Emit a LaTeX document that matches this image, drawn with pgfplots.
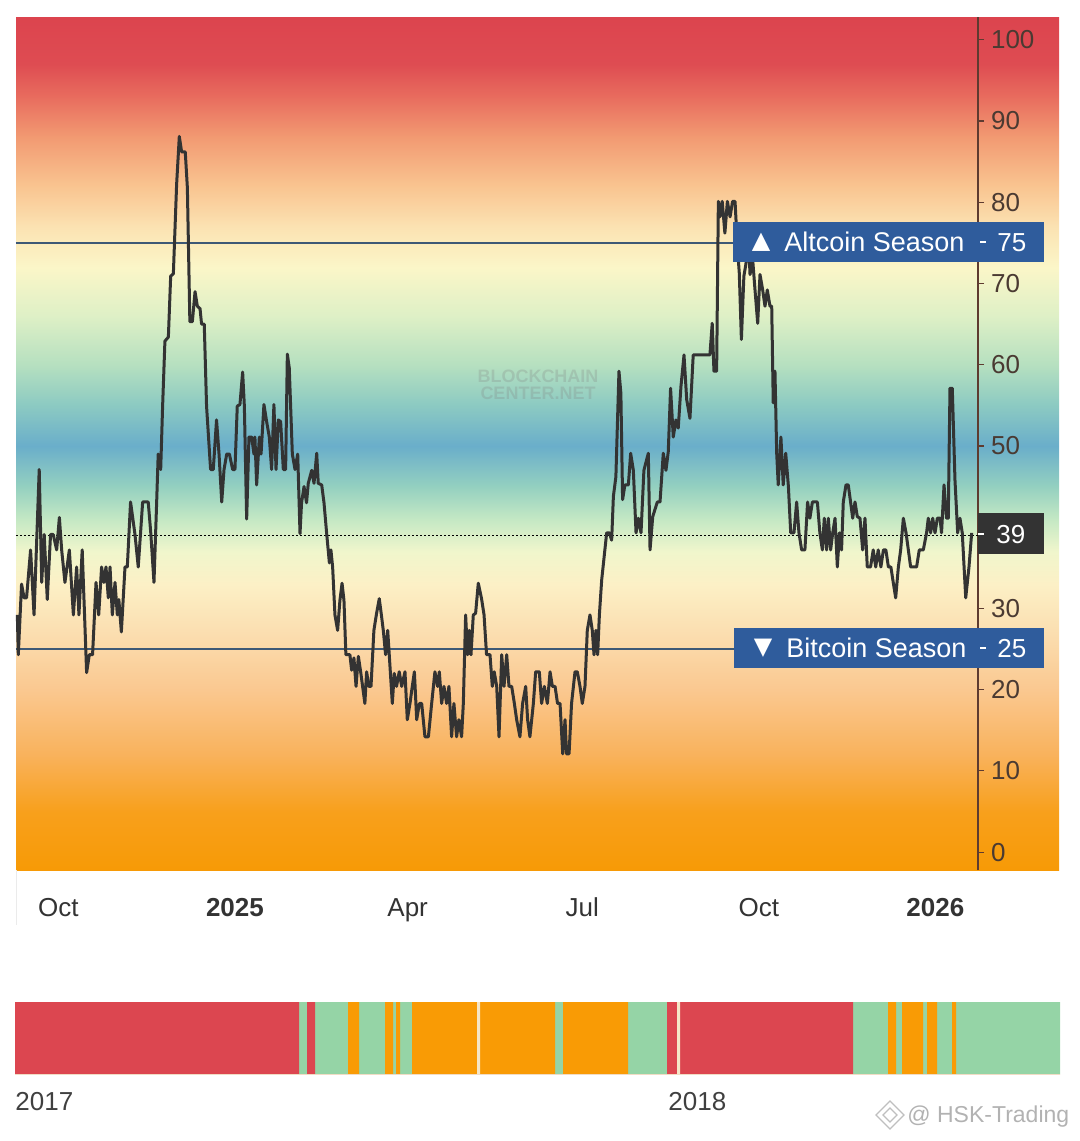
\documentclass[border=0pt]{standalone}
\usepackage{pgfplots}
\pgfplotsset{compat=1.18}
\usepackage{fontspec}
\setmainfont{Liberation Sans}
\newfontfamily\dejavu{DejaVu Sans}
\definecolor{lineblk}{HTML}{333333}
\definecolor{seasonln}{HTML}{3D5875}
\definecolor{boxblue}{HTML}{2F5C9C}
\definecolor{boxdark}{HTML}{333333}
\definecolor{tickcol}{HTML}{4A3A32}
\definecolor{axiscol}{HTML}{5E3B30}
\definecolor{xlab}{HTML}{333333}
\definecolor{sred}{HTML}{DC4650}
\definecolor{sgreen}{HTML}{95D4A6}
\definecolor{sorange}{HTML}{F99B05}
\definecolor{spale}{HTML}{F5E6C8}
\definecolor{g00}{RGB}{247,154,6}
\definecolor{g01}{RGB}{248,160,28}
\definecolor{g02}{RGB}{249,178,92}
\definecolor{g03}{RGB}{250,200,144}
\definecolor{g04}{RGB}{251,222,176}
\definecolor{g05}{RGB}{252,240,198}
\definecolor{g06}{RGB}{240,246,204}
\definecolor{g07}{RGB}{196,232,196}
\definecolor{g08}{RGB}{148,208,192}
\definecolor{g09}{RGB}{106,174,202}
\definecolor{g10}{RGB}{140,202,194}
\definecolor{g11}{RGB}{182,224,192}
\definecolor{g12}{RGB}{222,240,198}
\definecolor{g13}{RGB}{251,246,200}
\definecolor{g14}{RGB}{251,226,178}
\definecolor{g15}{RGB}{249,196,144}
\definecolor{g16}{RGB}{242,154,114}
\definecolor{g17}{RGB}{232,108,94}
\definecolor{g18}{RGB}{222,76,82}
\definecolor{g19}{RGB}{220,68,78}
\pgfdeclareverticalshading{bgshade}{100bp}{color(0bp)=(g00); color(25bp)=(g00); color(28.43bp)=(g01); color(31.76bp)=(g02); color(35.57bp)=(g03); color(38.9bp)=(g04); color(41.76bp)=(g05); color(43.67bp)=(g06); color(45.57bp)=(g07); color(47.48bp)=(g08); color(49.86bp)=(g09); color(52.24bp)=(g10); color(54.62bp)=(g11); color(57.48bp)=(g12); color(60.33bp)=(g13); color(62.71bp)=(g14); color(65.1bp)=(g15); color(67.95bp)=(g16); color(70.33bp)=(g17); color(72.24bp)=(g18); color(75bp)=(g19); color(100bp)=(g19)}
\newcommand{\lab}{\fontsize{13}{15}\selectfont}
\newcommand{\blab}{\fontsize{13.5}{15}\selectfont}
\begin{document}
\begin{tikzpicture}
\path[use as bounding box] (0pt,0pt) rectangle (540pt,-570.5pt);
\shade[shading=bgshade] (8pt,-8.5pt) rectangle (529.5pt,-435pt);
\begin{axis}[
 at={(8pt,-435pt)}, anchor=south west, scale only axis,
 width=481pt, height=426.5pt,
 xmin=-114.1, xmax=387.2, ymin=-2.2, ymax=102.8,
 axis x line*=bottom, axis y line*=right,
 x axis line style={draw=none},
 y axis line style={draw=axiscol, line width=0.6pt},
 xtick={-92,0,90,181,273,365},
 xticklabels={Oct,\textbf{2025},Apr,Jul,Oct,\textbf{2026}},
 xtick style={draw=none},
 ytick={0,10,20,30,50,60,70,80,90,100},
 ytick style={draw=axiscol, line width=0.6pt},
 tick align=outside, major tick length=3pt,
 xticklabel style={font=\lab, text=xlab, yshift=-7pt, text height=9.5pt, text depth=2.5pt},
 yticklabel style={font=\lab, text=tickcol},
 /pgf/number format/assume math mode=true,
 clip=false,
]
\addplot[seasonln, line width=1.2pt] coordinates {(-114.1,75) (260,75)};
\addplot[seasonln, line width=1.2pt] coordinates {(-114.1,25) (260,25)};
\addplot[black, line width=0.5pt, dash pattern=on 1pt off 1pt] coordinates {(-114.1,39) (387.2,39)};
\addplot[lineblk, line width=1.5pt, line join=round] coordinates {
(-113.4,29.2)(-112.9,24.3)(-111.2,33.0)(-109.9,31.3)(-108.6,31.3)(-106.5,37.2)(-104.7,29.2)(-102.0,47.1)(-100.7,33.2)(-99.4,39.1)(-97.8,31.1)(-96.1,39.1)(-94.7,39.1)(-92.9,37.2)(-91.5,41.2)(-90.3,37.2)(-88.6,33.2)(-86.3,37.2)(-84.2,29.2)(-82.5,35.1)(-81.3,29.2)(-79.6,37.2)(-77.3,22.1)(-75.9,24.3)(-74.2,24.3)(-72.4,33.2)(-71.0,29.2)(-69.5,35.1)(-68.3,33.2)(-67.2,35.1)(-66.0,31.3)(-65.1,35.1)(-63.9,29.2)(-62.5,33.2)(-61.3,29.2)(-60.5,31.1)(-59.2,27.1)(-57.3,35.1)(-56.1,35.1)(-54.4,43.1)(-52.1,39.1)(-50.4,35.1)(-48.1,43.1)(-45.2,43.1)(-43.9,39.4)(-42.2,33.2)(-40.8,43.1)(-40.0,49.0)(-38.7,47.1)(-37.7,54.9)(-36.5,62.9)(-34.7,63.4)(-33.5,70.9)(-32.1,71.2)(-30.4,82.2)(-29.0,88.1)(-27.8,86.2)(-25.9,86.2)(-24.8,81.8)(-23.5,65.3)(-22.2,65.3)(-20.8,69.0)(-19.6,67.2)(-18.2,66.9)(-17.4,65.0)(-16.0,65.0)(-14.8,54.9)(-12.7,47.1)(-11.3,47.1)(-9.6,53.2)(-8.3,49.0)(-6.9,43.1)(-5.7,47.1)(-4.3,49.0)(-2.9,49.0)(-1.2,47.1)(0.0,47.1)(1.2,54.9)(2.6,55.1)(4.0,59.1)(4.9,54.9)(6.1,41.0)(7.3,51.1)(8.7,51.1)(9.9,49.0)(10.4,51.1)(11.3,45.2)(12.7,51.1)(13.6,49.0)(15.1,55.1)(16.5,53.0)(17.9,51.1)(19.1,47.1)(20.3,55.1)(21.4,47.1)(22.6,53.2)(23.8,53.0)(25.2,47.1)(26.4,47.1)(27.3,61.3)(28.3,59.6)(29.9,49.0)(31.3,47.1)(32.7,49.0)
(33.9,39.2)(34.7,43.0)(36.0,45.0)(37.3,43.0)(38.2,45.4)(40.0,47.0)(41.2,45.4)(42.6,49.1)(43.4,45.4)(45.2,45.2)(46.4,43.0)(47.8,39.2)(49.2,35.6)(50.0,37.2)(50.9,35.1)(52.1,29.2)(53.5,27.3)(54.7,31.0)(55.8,33.1)(56.8,31.0)(57.8,24.3)(59.9,24.3)(60.8,22.4)(62.0,23.9)(63.1,20.4)(64.3,24.1)(65.5,22.2)(67.7,18.3)(68.6,22.2)(69.8,20.4)(70.9,20.4)(72.4,27.3)(73.8,29.4)(75.2,31.2)(76.3,29.2)(77.3,27.3)(78.5,24.3)(79.6,27.3)(80.4,24.3)(82.0,18.3)(83.0,22.0)(84.2,20.4)(85.6,22.2)(86.9,20.4)(88.6,22.2)(89.8,16.3)(91.2,18.3)(92.4,20.4)(93.5,22.2)(94.7,16.3)(96.1,18.3)(97.3,18.3)(99.0,14.2)(100.8,14.2)(102.5,18.3)(104.2,22.2)(105.6,20.4)(106.5,22.2)(107.7,18.3)(108.9,20.4)(110.3,18.3)(111.5,20.4)(112.9,14.2)(114.1,18.3)(115.5,14.2)(116.7,16.3)(118.1,14.2)(119.0,18.3)(120.2,29.2)(121.2,24.3)(122.1,27.3)(123.0,24.3)(124.2,29.2)(125.4,29.4)(126.8,33.1)(128.5,31.2)(129.8,29.2)(131.1,24.3)(132.9,24.3)(134.1,20.4)(135.1,22.2)(136.4,20.4)(137.6,14.2)(139.0,24.3)(140.2,20.4)(141.6,24.3)(142.8,20.4)(144.2,20.4)(145.6,18.3)(146.8,16.3)(148.5,14.2)(149.9,18.3)(151.5,20.4)(152.5,16.3)(153.7,14.2)(155.5,18.3)(156.7,22.2)(158.6,22.2)(159.8,18.3)(161.2,20.4)(162.8,18.3)(164.2,22.2)(165.4,20.4)(166.8,20.4)(168.1,18.3)(169.4,18.3)(170.8,12.1)(172.0,16.3)(172.8,12.1)(174.1,12.1)(175.4,18.3)(177.2,22.2)(178.4,22.2)(179.8,20.4)(181.0,18.3)(182.4,20.4)(183.6,27.3)(185.0,29.2)(186.2,27.3)(187.1,24.3)(188.1,27.3)(189.0,24.3)(189.9,29.2)
(191.1,33.5)(193.7,39.3)(195.1,39.3)(196.3,38.4)(197.2,43.8)(198.5,46.2)(200.1,59.2)(201.1,56.5)(202.0,43.4)(203.2,45.2)(205.0,45.2)(206.2,49.1)(207.6,47.0)(209.0,39.3)(210.2,41.1)(211.6,39.3)(213.1,47.0)(215.4,49.1)(216.3,37.2)(217.7,41.3)(220.1,43.1)(221.5,43.1)(223.2,49.1)(224.6,47.0)(225.8,49.3)(227.0,57.1)(228.4,51.1)(229.8,53.2)(231.0,52.2)(232.4,57.3)(234.0,61.2)(235.4,55.7)(237.1,53.4)(238.8,61.2)(247.5,61.2)(248.7,65.1)(249.6,59.2)(251.0,59.2)(251.9,80.1)(252.7,78.2)(253.9,80.1)(255.3,76.2)(256.6,80.1)(258.0,78.2)(259.3,80.1)(260.6,80.1)(261.8,74.6)(262.8,71.3)(263.9,63.1)(265.2,70.9)(266.6,72.9)(267.5,76.0)(268.4,71.1)(269.8,72.9)(271.0,69.2)(272.4,65.1)(273.6,71.1)(275.0,69.2)(276.2,67.2)(277.4,69.2)(278.8,67.2)(279.7,67.2)(280.5,55.3)(281.4,59.2)(282.3,49.1)(283.1,45.2)(284.5,51.1)(285.7,45.2)(287.0,49.1)(288.4,45.0)(289.6,39.3)(291.3,39.3)(292.7,43.1)(293.9,39.3)(295.3,37.2)(297.0,37.2)(298.4,43.1)(299.6,41.1)(300.9,43.1)(303.5,43.1)(304.8,39.3)(306.1,37.2)(307.1,41.1)(308.3,37.2)(309.2,41.1)(310.4,37.2)(311.5,39.3)(312.7,41.1)(313.9,35.1)(315.0,39.3)(316.1,37.2)(317.0,43.1)(318.4,45.2)(319.6,45.2)(320.8,43.1)(321.9,41.1)(323.1,43.1)(324.3,41.3)(325.7,41.1)(327.1,37.2)(328.3,41.1)(329.5,35.1)(331.2,35.1)(332.6,37.2)(333.9,35.1)(335.2,37.2)(336.6,35.1)(337.9,37.2)(339.2,37.2)(340.5,35.1)(341.8,35.1)(343.1,33.1)(344.3,31.3)(345.7,35.1)(346.9,37.2)(348.3,41.1)(349.7,39.3)(350.9,37.2)(352.1,35.1)(355.2,35.1)(356.6,37.2)(358.7,37.2)(360.4,39.3)(361.3,41.1)(362.5,39.3)(363.6,41.1)(364.8,39.3)(366.0,41.1)(367.4,41.1)(368.2,39.3)(369.5,45.2)(370.8,41.1)(371.7,41.1)(372.6,57.1)(373.8,57.1)(375.2,45.8)(376.6,39.3)(377.8,41.1)(379.0,39.3)(380.8,31.3)(382.5,35.1)(383.9,39.3)};
\end{axis}
\begin{axis}[
 at={(7.5pt,-537pt)}, anchor=south west, scale only axis,
 width=522.5pt, height=36pt,
 xmin=15, xmax=1060, ymin=0, ymax=1, hide axis,
]
\addplot[fill=sgreen, draw=none, const plot] coordinates {(15,1)(1060,1)} \closedcycle;
\addplot[fill=sred, draw=none, const plot] coordinates {(15,1)(299,0)(307,1)(315,0)(667,1)(677,0)(680,1)(853,0)(1060,0)} \closedcycle;
\addplot[fill=sorange, draw=none, const plot] coordinates {(15,0)(348,1)(359,0)(385,1)(393,0)(396,1)(400,0)(412,1)(477,0)(480,1)(555,0)(563,1)(628,0)(888,1)(896,0)(902,1)(923,0)(927,1)(937,0)(952,1)(956,0)(1060,0)} \closedcycle;
\addplot[fill=spale, draw=none, const plot] coordinates {(15,0)(477,1)(480,0)(677,1)(680,0)(1060,0)} \closedcycle;
\end{axis}
\begin{scope}[x=0.5pt,y=-0.5pt]
% Altcoin season box
\fill[boxblue] (733,222) rectangle (1044,262);
\node[text=white, inner sep=0pt] at (761,242) {\dejavu\fontsize{12}{14}\selectfont ▲};
\node[text=white, inner sep=0pt, anchor=base west] at (784,251) {\blab Altcoin Season};
\draw[white, line width=0.6pt] (980,242) -- (986,242);
\node[text=white, inner sep=0pt, anchor=base west] at (997,251) {\lab 75};
% Bitcoin season box
\fill[boxblue] (734,628) rectangle (1044,668);
\node[text=white, inner sep=0pt] at (763,648) {\dejavu\fontsize{12}{14}\selectfont ▼};
\node[text=white, inner sep=0pt, anchor=base west] at (786,657) {\blab Bitcoin Season};
\draw[white, line width=0.6pt] (980,648) -- (986,648);
\node[text=white, inner sep=0pt, anchor=base west] at (997,657) {\lab 25};
% current value box
\fill[boxdark] (978,513) rectangle (1044,554);
\draw[white, line width=0.6pt] (978,534) -- (984,534);
\node[text=white, inner sep=0pt, anchor=base west] at (996,543) {\lab 39};
% watermark in plot
\node[text=gray, opacity=0.25, inner sep=0pt, align=center, font=\bfseries\fontsize{9}{8.5}\selectfont] at (538,385) {BLOCKCHAIN\\CENTER.NET};
% faint left edge
\draw[black!8, line width=0.5pt] (16,870) -- (16,925);
% strip labels
\node[text=black!75, inner sep=0pt, anchor=base west] at (15,1110) {\lab 2017};
\node[text=black!75, inner sep=0pt, anchor=base west] at (668,1110) {\lab 2018};
% source watermark
\draw[black!25, line width=0.6pt] (890,1101) -- (904,1115) -- (890,1129) -- (876,1115) -- cycle;
\draw[black!25, line width=0.6pt] (890,1108) -- (897,1115) -- (890,1122) -- (883,1115) -- cycle;
\node[text=black!30, inner sep=0pt, anchor=base west] at (907,1122) {\fontsize{11.5}{13}\selectfont @ HSK-Trading};
\end{scope}
\end{tikzpicture}
\end{document}
